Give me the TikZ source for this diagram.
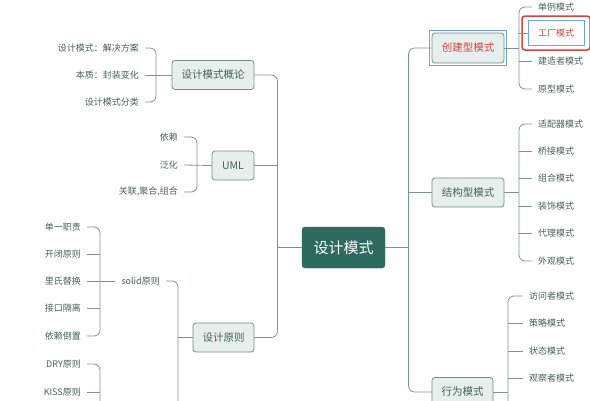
\documentclass[tikz,border=0pt]{standalone}
\usepackage{fontspec}
\setmainfont{Noto Sans CJK SC}
\usetikzlibrary{positioning,fit}
\definecolor{linegray}{HTML}{7A9690}
\definecolor{boxfill}{HTML}{E6EFED}
\definecolor{boxline}{HTML}{6F8F88}
\definecolor{textgreen}{HTML}{45625B}
\definecolor{rootfill}{HTML}{2F6A60}
\definecolor{hlred}{HTML}{D8443A}
\definecolor{hlblue}{HTML}{6AA6E8}
\begin{document}
\begin{tikzpicture}[x=1pt,y=-1pt,
root/.style={fill=rootfill,draw=rootfill,rounded corners=3pt,text=white,font=\fontsize{15}{18}\selectfont,minimum width=83pt,minimum height=41pt,inner sep=0pt},
box/.style={fill=boxfill,draw=boxline,line width=0.8pt,rounded corners=3pt,text=textgreen,font=\fontsize{10.5}{12}\selectfont,minimum height=29pt,inner sep=0pt},
leaf/.style={text=textgreen,font=\fontsize{9}{11}\selectfont,inner xsep=6pt,inner ysep=2pt},
link/.style={draw=linegray,line width=0.8pt,rounded corners=6pt}
]
\useasboundingbox (0,0) rectangle (590,400);
\clip (0,0) rectangle (590,400);
% root and main branches
\node[root] (ctr) at (343.5,247.5) {设计模式};
\node[box,minimum width=82pt] (gl) at (213,75) {设计模式概论};
\node[box,minimum width=42pt] (uml) at (233,165.5) {UML};
\node[box,minimum width=61pt] (yz) at (223.5,337.5) {设计原则};
\node[box,minimum width=72pt,minimum height=30pt,text=hlred] (cj) at (468,48) {创建型模式};
\node[draw=hlblue,line width=1pt,fit=(cj),inner sep=2.5pt] (cjmark) {};
\node[box,minimum width=72pt] (jg) at (468,192.5) {结构型模式};
\node[box,minimum width=61pt] (xw) at (462.5,392) {行为模式};
% left leaves
\node[leaf,anchor=east] (ga) at (145,48) {设计模式：解决方案};
\node[leaf,anchor=east] (gb) at (145,75) {本质：封装变化};
\node[leaf,anchor=east] (gc) at (145,102) {设计模式分类};
\node[leaf,anchor=east] (yl) at (184,137) {依赖};
\node[leaf,anchor=east] (fh) at (184,165) {泛化};
\node[leaf,anchor=east] (gh) at (184,192) {关联,聚合,组合};
\node[leaf,anchor=east] (solid) at (166,281) {solid原则};
\node[leaf,anchor=east] (dy) at (87,227) {单一职责};
\node[leaf,anchor=east] (kb) at (87,254) {开闭原则};
\node[leaf,anchor=east] (lx) at (87,281) {里氏替换};
\node[leaf,anchor=east] (jk) at (87,308) {接口隔离};
\node[leaf,anchor=east] (yd) at (87,336) {依赖倒置};
\node[leaf,anchor=east] (dry) at (87,364) {DRY原则};
\node[leaf,anchor=east] (kiss) at (87,392) {KISS原则};
% right leaves
\node[leaf,anchor=west] (dl) at (532,7) {单例模式};
\node[leaf,draw=hlblue,line width=1pt,text=hlred,minimum width=56pt,minimum height=25pt] (gcm) at (556,33) {工厂模式};
\node[draw=hlred,line width=1.5pt,rounded corners=3pt,fit=(gcm),inner xsep=5.5pt,inner ysep=4pt] (gcmark) {};
\node[leaf,anchor=west] (jz) at (532,61) {建造者模式};
\node[leaf,anchor=west] (yx) at (532,89) {原型模式};
\node[leaf,anchor=west] (spq) at (532,124) {适配器模式};
\node[leaf,anchor=west] (qj) at (532,151) {桥接模式};
\node[leaf,anchor=west] (zh) at (532,178) {组合模式};
\node[leaf,anchor=west] (zs) at (532,206) {装饰模式};
\node[leaf,anchor=west] (dlm) at (532,233) {代理模式};
\node[leaf,anchor=west] (wg) at (532,261) {外观模式};
\node[leaf,anchor=west] (fwz) at (523,296) {访问者模式};
\node[leaf,anchor=west] (cl) at (523,323) {策略模式};
\node[leaf,anchor=west] (zt) at (523,351) {状态模式};
\node[leaf,anchor=west] (gcz) at (523,378) {观察者模式};
\coordinate (xwend) at (508,420);
\coordinate (yzend) at (178,420);
\coordinate (dryend) at (100,420);
% trunks
\draw[link] (cj.west) -- ++(-23,0) |- (xw.west);
\draw[link] (jg.west) -- ++(-23,0);
\draw[link] (ctr.east) -- ++(23,0);
\draw[link] (gl.east) -- ++(23,0) |- (yz.east);
\draw[link] (uml.east) -- ++(23,0);
\draw[link] (ctr.west) -- ++(-24,0);
% brackets, left
\draw[link] (ga.east) -- ++(11,0) |- (gc.east);
\draw[link] (gb.east) -- (gl.west);
\draw[link] (yl.east) -- ++(13,0) |- (gh.east);
\draw[link] (fh.east) -- (uml.west);
\draw[link] (solid.east) -| (yzend);
\draw[link] (yz.west) -- ++(-15,0);
\draw[link] (dy.east) -- ++(13,0) |- (yd.east);
\draw[link] (lx.east) -- (solid.west);
\foreach \c in {kb,jk} \draw[link] (\c.east) -- ++(13,0);
\draw[link] (dry.east) -| (dryend);
\draw[link] (kiss.east) -- ++(13,0);
% brackets, right
\draw[link] (dl.west) -- ++(-13,0) |- (yx.west);
\draw[link] (gcm.west) -- ++(-9,0);
\draw[link] (jz.west) -- ++(-13,0);
\draw[link] (cj.east) -- ++(15,0);
\draw[link] (spq.west) -- ++(-13,0) |- (wg.west);
\foreach \c in {qj,zh,zs,dlm} \draw[link] (\c.west) -- ++(-13,0);
\draw[link] (jg.east) -- ++(15,0);
\draw[link] (fwz.west) -| (xwend);
\foreach \c in {cl,zt,gcz} \draw[link] (\c.west) -- ++(-15,0);
\draw[link] (xw.east) -- ++(15,0);
\end{tikzpicture}
\end{document}
